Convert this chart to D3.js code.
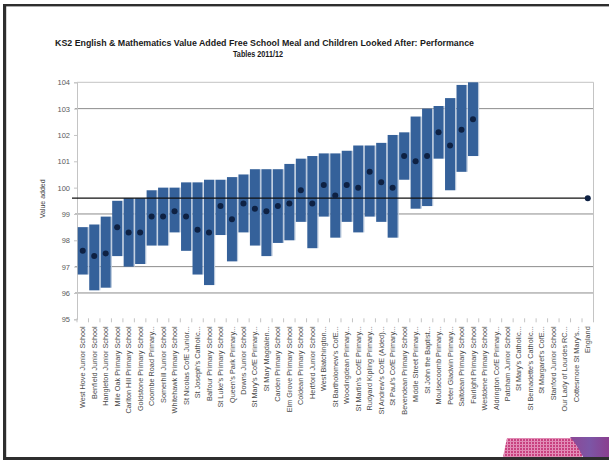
<!DOCTYPE html>
<html><head><meta charset="utf-8">
<script src="https://cdn.jsdelivr.net/npm/d3@7"></script>
<style>body{margin:0;background:#fff;} svg{display:block;}</style>
</head><body>
<svg id="c" width="609" height="461"></svg>
<script>
const categories = [
  "West Hove Junior School","Benfield Junior School","Hangleton Junior School","Mile Oak Primary School",
  "Carlton Hill Primary School","Goldstone Primary School","Coombe Road Primary...","Somerhill Junior School",
  "Whitehawk Primary School","St Nicolas CofE Junior...","St Joseph's Catholic...","Balfour Primary School",
  "St Luke's Primary School","Queen's Park Primary...","Downs Junior School","St Mary's CofE Primary...",
  "St Mary Magdalen...","Carden Primary School","Elm Grove Primary School","Coldean Primary School",
  "Hertford Junior School","West Blatchington...","St Bartholomew's CofE...","Woodingdean Primary...",
  "St Martin's CofE Primary...","Rudyard Kipling Primary...","St Andrew's CofE (Aided)...","St Paul's CofE Primary...",
  "Bevendean Primary School","Middle Street Primary...","St John the Baptist...","Moulsecoomb Primary...",
  "Peter Gladwin Primary...","Saltdean Primary School","Fairlight Primary School","Westdene Primary School",
  "Aldrington CofE Primary...","Patcham Junior School","St Mary's Catholic...","St Bernadette's Catholic...",
  "St Margaret's CofE...","Stanford Junior School","Our Lady of Lourdes RC...","Cottesmore St Mary's...","England"
];
const highValues = [98.5,98.6,98.9,99.5,99.6,99.6,99.9,100.0,100.0,100.2,100.2,100.3,100.3,100.4,100.5,100.7,100.7,100.7,100.9,101.1,
  101.2,101.3,101.3,101.4,101.6,101.6,101.7,102.0,102.1,102.7,103.0,103.1,103.4,103.9,104.0,
  null,null,null,null,null,null,null,null,null,null];
const lowValues = [96.7,96.1,96.2,97.4,97.0,97.1,97.8,97.8,98.3,97.6,96.7,96.3,98.2,97.2,98.3,97.8,97.4,97.9,98.0,98.7,
  97.7,98.9,98.1,98.7,98.3,98.9,98.7,98.1,100.3,99.2,99.3,101.1,99.9,100.6,101.2,
  null,null,null,null,null,null,null,null,null,null];
const pointValues = [97.6,97.4,97.5,98.5,98.3,98.3,98.9,98.9,99.1,98.9,98.4,98.3,99.3,98.8,99.4,99.2,99.1,99.3,99.4,99.9,
  99.4,100.1,99.7,100.1,100.0,100.6,100.2,100.0,101.2,101.0,101.2,102.1,101.6,102.2,102.6,
  null,null,null,null,null,null,null,null,null,99.6];
const englandValue = 99.6;
const yTickValues = [95,96,97,98,99,100,101,102,103,104];
const gridValues = [103,99,97,96];
const titleLines = ["KS2 English & Mathematics Value Added Free School Meal and Children Looked After: Performance","Tables 2011/12"];
const yAxisTitle = "Value added";

const svg = d3.select("#c");
const L = 77, R = 593.5, T = 82.3, B = 319.3;

const x = d3.scaleBand().domain(categories).range([L, R]).paddingInner(0.13).paddingOuter(0.065);
const y = d3.scaleLinear().domain([95, 104]).range([B, T]);

// frame
svg.append("rect").attr("x",3).attr("y",4).attr("width",3.2).attr("height",456).attr("fill","#2e2e2e");
svg.append("rect").attr("x",3).attr("y",4).attr("width",606).attr("height",2.4).attr("fill","#2e2e2e");
svg.append("rect").attr("x",3).attr("y",457).attr("width",606).attr("height",3).attr("fill","#2e2e2e");

// decoration bottom-right
const defs = svg.append("defs");
const pat = defs.append("pattern").attr("id","hatch").attr("width",3).attr("height",3).attr("patternUnits","userSpaceOnUse");
pat.append("rect").attr("width",3).attr("height",3).attr("fill","#c8417f");
pat.append("rect").attr("width",1).attr("height",3).attr("fill","#e493bb");
pat.append("rect").attr("width",3).attr("height",1).attr("fill","#e08ab4");
const grad = defs.append("linearGradient").attr("id","purp").attr("x1","0").attr("x2","1");
grad.append("stop").attr("offset","0").attr("stop-color","#8d4896");
grad.append("stop").attr("offset","0.5").attr("stop-color","#7c56a6");
grad.append("stop").attr("offset","1").attr("stop-color","#8a3f8f");
svg.append("path").attr("d","M507,438 L582,438 L582,457 L503,457 Z").attr("fill","url(#hatch)");
svg.append("path").attr("d","M570,437 L609,437 L609,457 L583,457 Q578,446 570,437 Z").attr("fill","url(#purp)");

// title
const title = svg.append("g").attr("font-family","Liberation Sans, Arial, sans-serif").attr("font-weight","bold")
  .attr("font-size",9).attr("fill","#1a1a1a");
title.append("text").attr("x",264.5).attr("y",46.3).attr("text-anchor","middle")
  .attr("textLength",419).attr("lengthAdjust","spacingAndGlyphs").text(titleLines[0]);
title.append("text").attr("x",258).attr("y",56.6).attr("text-anchor","middle")
  .attr("textLength",50).attr("lengthAdjust","spacingAndGlyphs").text(titleLines[1]);

// grid
svg.append("g").selectAll("line").data(gridValues).join("line")
  .attr("x1",L-2).attr("x2",R).attr("y1",d=>y(d)).attr("y2",d=>y(d))
  .attr("stroke","#8c8c8c").attr("stroke-width",1);
// plot border top & right
svg.append("line").attr("x1",L).attr("x2",R).attr("y1",y(104)).attr("y2",y(104)).attr("stroke","#c4c4c4");
svg.append("line").attr("x1",R).attr("x2",R).attr("y1",y(104)).attr("y2",y(95)).attr("stroke","#c4c4c4");

// y axis
const yAxis = d3.axisLeft(y).tickValues(yTickValues).tickSize(3).tickPadding(4).tickFormat(d3.format("d"));
const ya = svg.append("g").attr("transform",`translate(${L},0)`).call(yAxis);
ya.select(".domain").attr("stroke","#c4c4c4");
ya.selectAll(".tick line").attr("stroke","#c4c4c4");
ya.selectAll("text").attr("font-family","Liberation Sans, Arial, sans-serif").attr("font-size",7.5).attr("fill","#5a5a5a");

// y title
svg.append("text").attr("transform",`translate(45,${(T+B)/2 - 2}) rotate(-90)`).attr("text-anchor","middle")
  .attr("font-family","Liberation Sans, Arial, sans-serif").attr("font-size",7).attr("fill","#444").text(yAxisTitle);

// x ticks (boundaries)
const bounds = categories.map((c,i)=>i).concat([categories.length]);
const step = x.step();
svg.append("g").selectAll("line").data(bounds).join("line")
  .attr("x1",i=>L+i*step).attr("x2",i=>L+i*step).attr("y1",B-1).attr("y2",B+3)
  .attr("stroke","#c4c4c4");

// x labels
svg.append("g").selectAll("text").data(categories).join("text")
  .attr("transform",d=>`translate(${x(d)+x.bandwidth()/2},${B+7}) rotate(-90)`)
  .attr("text-anchor","end").attr("dy","0.35em")
  .attr("font-family","Liberation Sans, Arial, sans-serif").attr("font-size",7.3).attr("fill","#4a4a4a")
  .text(d=>d);

// bars
const barData = categories.map((c,i)=>({c, hi:highValues[i], lo:lowValues[i], v:pointValues[i]}));
const bars = svg.append("g");
bars.selectAll("rect.sh").data(barData.filter(d=>d.hi!=null)).join("rect").attr("class","sh")
  .attr("x",d=>x(d.c)+x.bandwidth()).attr("width",1.2)
  .attr("y",d=>y(d.hi)).attr("height",d=>y(d.lo)-y(d.hi)).attr("fill","#b9c8dc");
bars.selectAll("rect.b").data(barData.filter(d=>d.hi!=null)).join("rect").attr("class","b")
  .attr("x",d=>x(d.c)).attr("width",x.bandwidth())
  .attr("y",d=>y(d.hi)).attr("height",d=>y(d.lo)-y(d.hi)).attr("fill","#35619a");

// England line
svg.append("line").attr("x1",L-5).attr("x2",x("England")+x.bandwidth()/2)
  .attr("y1",y(englandValue)).attr("y2",y(englandValue)).attr("stroke","#111").attr("stroke-width",1.3);

// points
svg.append("g").selectAll("circle").data(barData.filter(d=>d.v!=null)).join("circle")
  .attr("cx",d=>x(d.c)+x.bandwidth()/2).attr("cy",d=>y(d.v)).attr("r",3)
  .attr("fill","#0e2143");
</script>
</body></html>
